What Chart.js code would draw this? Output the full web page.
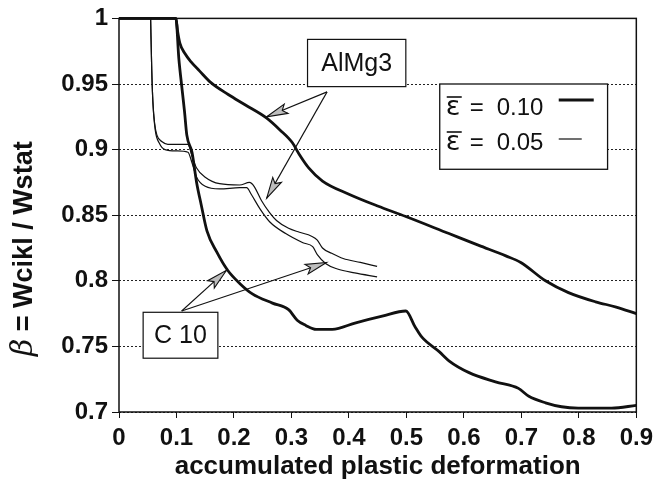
<!DOCTYPE html>
<html><head><meta charset="utf-8">
<script src="https://cdn.jsdelivr.net/npm/chart.js@4.4.0/dist/chart.umd.min.js"></script>
<style>html,body{margin:0;padding:0;background:#fff;}</style>
</head><body>
<canvas id="c" width="659" height="483"></canvas>
<script>
// ---- data ----
const xTicks = [0, 0.1, 0.2, 0.3, 0.4, 0.5, 0.6, 0.7, 0.8, 0.9];
const xTickLabels = ["0", "0.1", "0.2", "0.3", "0.4", "0.5", "0.6", "0.7", "0.8", "0.9"];
const yTicks = [0.7, 0.75, 0.8, 0.85, 0.9, 0.95, 1];
const yTickLabels = ["0.7", "0.75", "0.8", "0.85", "0.9", "0.95", "1"];

const almg3_010_x = [0, 0.099, 0.102, 0.106, 0.115, 0.125, 0.14, 0.16, 0.19, 0.22, 0.257, 0.28, 0.302, 0.314, 0.33, 0.354, 0.40, 0.45, 0.499, 0.574, 0.626, 0.673, 0.699, 0.742, 0.782, 0.829, 0.865, 0.9];
const almg3_010_y = [1, 1, 0.99, 0.981, 0.973, 0.967, 0.96, 0.951, 0.942, 0.934, 0.924, 0.915, 0.905, 0.896, 0.886, 0.876, 0.866, 0.857, 0.849, 0.836, 0.827, 0.819, 0.814, 0.800, 0.791, 0.784, 0.780, 0.775];

const c10_010_x = [0, 0.099, 0.104, 0.11, 0.114, 0.118, 0.127, 0.135, 0.143, 0.153, 0.17, 0.189, 0.21, 0.232, 0.267, 0.295, 0.31, 0.325, 0.343, 0.371, 0.412, 0.458, 0.499, 0.515, 0.527, 0.557, 0.574, 0.609, 0.655, 0.695, 0.713, 0.742, 0.77, 0.799, 0.857, 0.9];
const c10_010_y = [1, 1, 0.97, 0.945, 0.929, 0.911, 0.898, 0.875, 0.858, 0.838, 0.822, 0.808, 0.798, 0.790, 0.783, 0.778, 0.770, 0.766, 0.763, 0.763, 0.768, 0.773, 0.777, 0.765, 0.757, 0.746, 0.739, 0.730, 0.723, 0.718, 0.712, 0.707, 0.704, 0.703, 0.703, 0.705];

const almg3_005_x = [0.055, 0.057, 0.059, 0.062, 0.066, 0.075, 0.085, 0.12, 0.127, 0.135, 0.15, 0.175, 0.21, 0.227, 0.235, 0.248, 0.262, 0.274, 0.295, 0.314, 0.335, 0.345, 0.354, 0.37, 0.39, 0.42, 0.449];
const almg3_005_y = [1, 0.96, 0.936, 0.92, 0.911, 0.906, 0.904, 0.904, 0.895, 0.886, 0.879, 0.874, 0.873, 0.875, 0.872, 0.861, 0.852, 0.846, 0.840, 0.837, 0.834, 0.831, 0.825, 0.821, 0.817, 0.814, 0.811];

const c10_005_x = [0.055, 0.057, 0.059, 0.063, 0.07, 0.08, 0.10, 0.12, 0.127, 0.135, 0.15, 0.175, 0.21, 0.222, 0.23, 0.245, 0.262, 0.29, 0.32, 0.337, 0.345, 0.36, 0.38, 0.41, 0.449];
const c10_005_y = [1, 0.96, 0.936, 0.915, 0.905, 0.900, 0.899, 0.898, 0.890, 0.879, 0.872, 0.870, 0.871, 0.871, 0.866, 0.855, 0.845, 0.836, 0.829, 0.826, 0.820, 0.813, 0.809, 0.806, 0.803];

const pts = (xs, ys) => xs.map((x, i) => ({x: x, y: ys[i]}));

const INK = '#111';

function arrow(ctx, x0, y0, x1, y1) {
  ctx.save();
  ctx.strokeStyle = INK; ctx.lineWidth = 1.1;
  ctx.beginPath(); ctx.moveTo(x0, y0); ctx.lineTo(x1, y1); ctx.stroke();
  const dx = x1 - x0, dy = y1 - y0, L = Math.hypot(dx, dy);
  const ux = dx / L, uy = dy / L, nx = -uy, ny = ux;
  const hl = 21, hw = 5;
  ctx.beginPath();
  ctx.moveTo(x1, y1);
  ctx.lineTo(x1 - ux * hl + nx * hw, y1 - uy * hl + ny * hw);
  ctx.lineTo(x1 - ux * hl * 0.8, y1 - uy * hl * 0.8);
  ctx.lineTo(x1 - ux * hl - nx * hw, y1 - uy * hl - ny * hw);
  ctx.closePath();
  ctx.fillStyle = '#bdbdbd'; ctx.fill();
  ctx.lineWidth = 1.1; ctx.stroke();
  ctx.restore();
}

function box(ctx, x0, y0, x1, y1, lw) {
  ctx.save();
  ctx.fillStyle = '#fff';
  ctx.fillRect(x0, y0, x1 - x0, y1 - y0);
  ctx.strokeStyle = INK; ctx.lineWidth = lw;
  ctx.strokeRect(x0, y0, x1 - x0, y1 - y0);
  ctx.restore();
}

const overlay = {
  id: 'overlay',
  beforeDatasetsDraw(chart) {
    const {ctx, chartArea: a} = chart;
    ctx.save();
    ctx.strokeStyle = INK; ctx.lineWidth = 1.5;
    ctx.strokeRect(a.left, a.top, a.right - a.left, a.bottom - a.top);
    ctx.restore();
  },
  afterDraw(chart) {
    const {ctx, chartArea: a} = chart;
    const sx = chart.scales.x, sy = chart.scales.y;
    const P = (x, y) => [sx.getPixelForValue(x), sy.getPixelForValue(y)];

    // AlMg3 arrows + box
    let o = P(0.362, 0.944);
    let t = P(0.257, 0.925); arrow(ctx, o[0], o[1], t[0], t[1]);
    t = P(0.257, 0.863); arrow(ctx, o[0], o[1], t[0], t[1]);
    let b0 = P(0.328, 0.984), b1 = P(0.499, 0.948);
    box(ctx, b0[0], b0[1], b1[0], b1[1], 1.2);
    ctx.save();
    ctx.fillStyle = INK; ctx.font = '25px "Liberation Sans", Arial, sans-serif';
    ctx.textAlign = 'center'; ctx.textBaseline = 'middle';
    ctx.fillText('AlMg3', (b0[0] + b1[0]) / 2, (b0[1] + b1[1]) / 2 + 1);
    ctx.restore();

    // C 10 arrows + box
    o = P(0.109, 0.777);
    t = P(0.187, 0.808); arrow(ctx, o[0], o[1], t[0], t[1]);
    t = P(0.361, 0.814); arrow(ctx, o[0], o[1], t[0], t[1]);
    b0 = P(0.042, 0.776); b1 = P(0.172, 0.741);
    box(ctx, b0[0], b0[1], b1[0], b1[1], 1.2);
    ctx.save();
    ctx.fillStyle = INK; ctx.font = '25px "Liberation Sans", Arial, sans-serif';
    ctx.textAlign = 'center'; ctx.textBaseline = 'middle';
    ctx.fillText('C 10', (b0[0] + b1[0]) / 2, (b0[1] + b1[1]) / 2 + 1);
    ctx.restore();

    // legend box
    b0 = P(0.558, 0.950); b1 = P(0.850, 0.885);
    box(ctx, b0[0], b0[1], b1[0], b1[1], 1.3);
    const L = b0[0], T = b0[1];
    ctx.save();
    ctx.fillStyle = INK; ctx.strokeStyle = INK;
    const rows = [{lab: '0.10', base: 31, bar: 13, ly: 16, lw: 3, len: 35},
                  {lab: '0.05', base: 66, bar: 48, ly: 55, lw: 1.2, len: 23}];
    rows.forEach(r => {
      ctx.font = '27px "DejaVu Sans", sans-serif';
      ctx.textAlign = 'left'; ctx.textBaseline = 'alphabetic';
      ctx.fillText('\u03B5', L + 6, T + r.base);
      ctx.lineWidth = 1.6;
      ctx.beginPath(); ctx.moveTo(L + 7, T + r.bar); ctx.lineTo(L + 22, T + r.bar); ctx.stroke();
      ctx.font = '24px "Liberation Sans", Arial, sans-serif';
      ctx.fillText('=', L + 30, T + r.base);
      ctx.fillText(r.lab, L + 57, T + r.base);
      ctx.lineWidth = r.lw;
      ctx.beginPath(); ctx.moveTo(L + 119, T + r.ly); ctx.lineTo(L + 119 + r.len, T + r.ly); ctx.stroke();
    });
    ctx.restore();

    // axis titles
    ctx.save();
    ctx.fillStyle = INK;
    ctx.font = 'bold 26px "Liberation Sans", Arial, sans-serif';
    ctx.textAlign = 'center'; ctx.textBaseline = 'alphabetic';
    ctx.fillText('accumulated plastic deformation', (a.left + a.right) / 2, 474);
    ctx.translate(32, 356);
    ctx.rotate(-Math.PI / 2);
    ctx.textAlign = 'left';
    ctx.font = 'italic 30px "DejaVu Serif", serif';
    ctx.fillText('\u03B2', 0, 0);
    const w = ctx.measureText('\u03B2').width;
    ctx.font = 'bold 27px "Liberation Sans", Arial, sans-serif';
    ctx.fillText(' = Wcikl / Wstat', w, 0);
    ctx.restore();
  }
};

const lineDs = (label, data, width) => ({
  label, data, showLine: true, borderColor: INK, backgroundColor: INK,
  borderWidth: width, pointRadius: 0, pointHoverRadius: 0, fill: false,
  cubicInterpolationMode: 'monotone', clip: 4
});

new Chart(document.getElementById('c'), {
  type: 'scatter',
  data: {
    datasets: [
      lineDs('AlMg3 ε = 0.05', pts(almg3_005_x, almg3_005_y), 1.2),
      lineDs('C 10 ε = 0.05', pts(c10_005_x, c10_005_y), 1.2),
      lineDs('AlMg3 ε = 0.10', pts(almg3_010_x, almg3_010_y), 2.8),
      lineDs('C 10 ε = 0.10', pts(c10_010_x, c10_010_y), 2.8)
    ]
  },
  options: {
    responsive: false,
    devicePixelRatio: 1,
    animation: false,
    layout: {padding: {left: 0, right: 21, top: 16, bottom: 0}},
    plugins: {legend: {display: false}, tooltip: {enabled: false}},
    scales: {
      x: {
        type: 'linear', min: 0, max: 0.9,
        afterBuildTicks: s => { s.ticks = xTicks.map(v => ({value: v})); },
        afterFit: s => { s.height = 71; },
        ticks: {
          callback: (v) => { const i = xTicks.findIndex(t => Math.abs(t - v) < 1e-9); return i >= 0 ? xTickLabels[i] : ''; },
          color: INK, padding: 6, maxRotation: 0, autoSkip: false,
          font: {family: '"Liberation Sans", Arial, sans-serif', size: 24, weight: 'bold'}
        },
        grid: {drawOnChartArea: false, drawTicks: true, tickLength: 6, tickColor: INK, tickWidth: 1},
        border: {display: false}
      },
      y: {
        type: 'linear', min: 0.7, max: 1,
        afterBuildTicks: s => { s.ticks = yTicks.map(v => ({value: v})); },
        afterFit: s => { s.width = 119; },
        ticks: {
          callback: (v) => { const i = yTicks.findIndex(t => Math.abs(t - v) < 1e-9); return i >= 0 ? yTickLabels[i] : ''; },
          color: INK, padding: 4, autoSkip: false,
          font: {family: '"Liberation Sans", Arial, sans-serif', size: 24, weight: 'bold'}
        },
        grid: {color: '#222', lineWidth: 1, drawTicks: true, tickLength: 7, tickColor: INK, tickWidth: 1, tickBorderDash: []},
        border: {display: false, dash: [2, 2]}
      }
    }
  },
  plugins: [overlay]
});
</script>
</body></html>
